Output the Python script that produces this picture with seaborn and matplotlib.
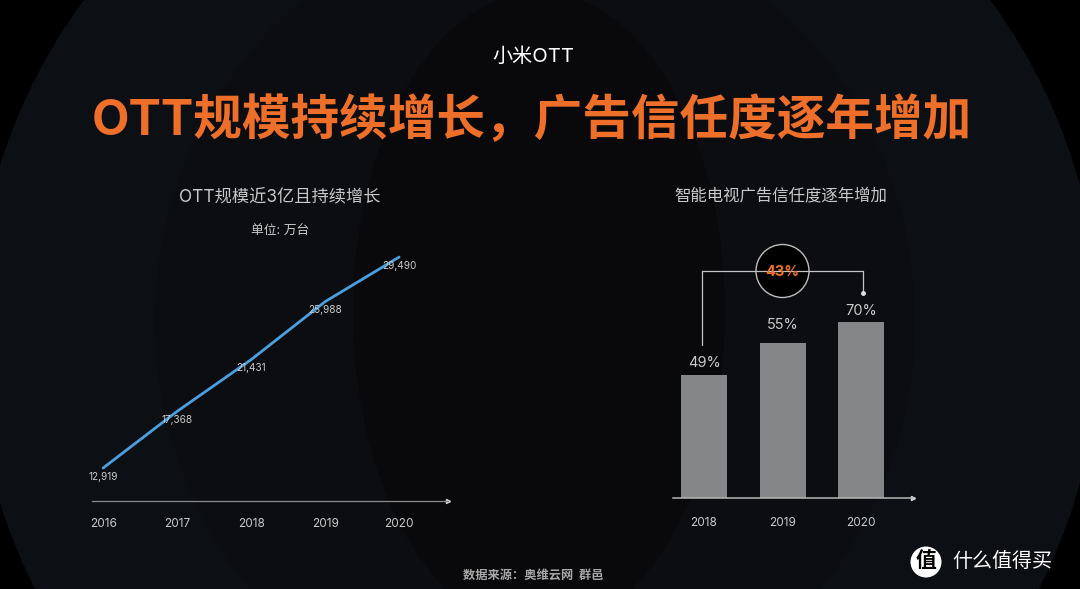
import matplotlib
matplotlib.use('Agg')
import matplotlib.pyplot as plt
from matplotlib.patches import Circle, Ellipse
import pandas as pd
import seaborn as sns

# line chart data
years_line = [2016, 2017, 2018, 2019, 2020]
ott_units = [12919, 17368, 21431, 25988, 29490]

# bar chart data. 2019 is drawn taller than its 55% label in the source
years_bar = ['2018', '2019', '2020']
bar_heights = [49, 61.7, 70]
bar_labels = ['49%', '55%', '70%']

W, H = 1080, 589
FONTS = ['Inter', 'Noto Sans CJK SC', 'DejaVu Sans']
GREY = '#c9c9c9'
ORANGE = '#ee6f2a'

sns.set_theme(style='white')
plt.rcParams['font.family'] = FONTS
plt.rcParams['axes.unicode_minus'] = False


def px_axes(fig, left, top, right, bottom, **kw):
    # axes placed by pixel box of the reference
    return fig.add_axes([left / W, 1 - bottom / H, (right - left) / W, (bottom - top) / H], **kw)


fig = plt.figure(figsize=(W / 100, H / 100), dpi=100, facecolor='#000000')

# background bands, big overlapping circles
bg = px_axes(fig, 0, 0, W, H, zorder=0)
bg.set_xlim(0, W)
bg.set_ylim(H, 0)
bg.axis('off')
bg.add_patch(Ellipse((537, 334), 1126, 1126, color='#0c0f14', lw=0))
bg.add_patch(Ellipse((535, 321), 760, 812, color='#0c0d11', lw=0))
bg.add_patch(Ellipse((539, 312), 372, 640, color='#09090c', lw=0))

# left chart
ax1 = px_axes(fig, 92, 240, 448, 501, zorder=2)
ax1.patch.set_alpha(0)
df1 = pd.DataFrame({'year': years_line, 'units': ott_units})
sns.lineplot(data=df1, x='year', y='units', color='#4a9fe0', linewidth=2, ax=ax1)
ax1.set_xlim(2015.85, 2020.66)
ax1.set_ylim(10327, 30830)
ax1.set_xticks(years_line)
ax1.set_yticks([])
ax1.set_xlabel('')
ax1.set_ylabel('')
ax1.tick_params(axis='x', length=0, pad=12.5, labelsize=8.5, labelcolor=GREY)
for s in ['top', 'left', 'right']:
    ax1.spines[s].set_visible(False)
ax1.spines['bottom'].set_color('#8a8a8a')
ax1.spines['bottom'].set_linewidth(0.9)
ax1.plot(1, 0, marker='>', ms=3, color='#cfcfcf', transform=ax1.transAxes, clip_on=False)
for yr, val in zip(years_line, ott_units):
    ax1.annotate(f'{val:,}', (yr, val), xytext=(0, -6.3), textcoords='offset points',
                 ha='center', va='center', fontsize=7.2, color=GREY)

# right chart
ax2 = px_axes(fig, 673, 260, 913, 498, zorder=2)
ax2.patch.set_alpha(0)
df2 = pd.DataFrame({'year': years_bar, 'height': bar_heights})
sns.barplot(data=df2, x='year', y='height', color='#858688', saturation=1, width=0.586,
            edgecolor='none', linewidth=0, ax=ax2)
ax2.set_xlim(-0.395, 2.662)
ax2.set_ylim(0, 94.5)
ax2.set_yticks([])
ax2.set_xlabel('')
ax2.set_ylabel('')
ax2.tick_params(axis='x', length=0, pad=14, labelsize=8.5, labelcolor=GREY)
for s in ['top', 'left', 'right']:
    ax2.spines[s].set_visible(False)
ax2.spines['bottom'].set_color('#b5b5b5')
ax2.spines['bottom'].set_linewidth(1.1)
ax2.plot(1, 0, marker='>', ms=3, color='#d5d5d5', transform=ax2.transAxes, clip_on=False)
label_gaps = [8, 12.5, 8]  # points above the bar top
for i, (h, lab, gap) in enumerate(zip(bar_heights, bar_labels, label_gaps)):
    ax2.annotate(lab, (i, h), xytext=(0, gap), textcoords='offset points',
                 ha='center', va='center', fontsize=10.5, color=GREY)

# overlay for connector, titles, watermark
top = px_axes(fig, 0, 0, W, H, zorder=3)
top.set_xlim(0, W)
top.set_ylim(H, 0)
top.axis('off')
top.patch.set_alpha(0)
top.plot([702, 702, 863, 863], [345, 271, 271, 292], color='#c4c4c4', lw=0.9)
top.plot([863], [293], marker='o', ms=2.5, color='#e0e0e0')
top.add_patch(Circle((782.5, 271), 26.5, facecolor='black', edgecolor='#bdbdbd', lw=1))
top.text(782.5, 272, '43%', ha='center', va='center', fontsize=10.5, fontweight='bold', color=ORANGE)

top.text(533, 57, '小米OTT', ha='center', va='center', fontsize=14.5, color='white')
top.text(532, 121, 'OTT规模持续增长，广告信任度逐年增加', ha='center', va='center',
         fontsize=35, fontweight='bold', color=ORANGE)
top.text(280, 198, 'OTT规模近3亿且持续增长', ha='center', va='center', fontsize=12.4, color=GREY)
top.text(280, 232, '单位: 万台', ha='center', va='center', fontsize=9.2, color=GREY)
top.text(781, 195, '智能电视广告信任度逐年增加', ha='center', va='center', fontsize=11.8, color=GREY)
top.text(533, 576, '数据来源：奥维云网  群邑', ha='center', va='center', fontsize=8.8,
         fontweight='bold', color='#a8a8a8')

top.add_patch(Circle((926, 562), 15.5, facecolor='white', lw=0))
top.text(926, 561, '值', ha='center', va='center', fontsize=15, fontweight='bold', color='black')
top.text(1002, 561, '什么值得买', ha='center', va='center', fontsize=14.4, color='white')

fig.savefig('out.png', dpi=100, facecolor=fig.get_facecolor())
